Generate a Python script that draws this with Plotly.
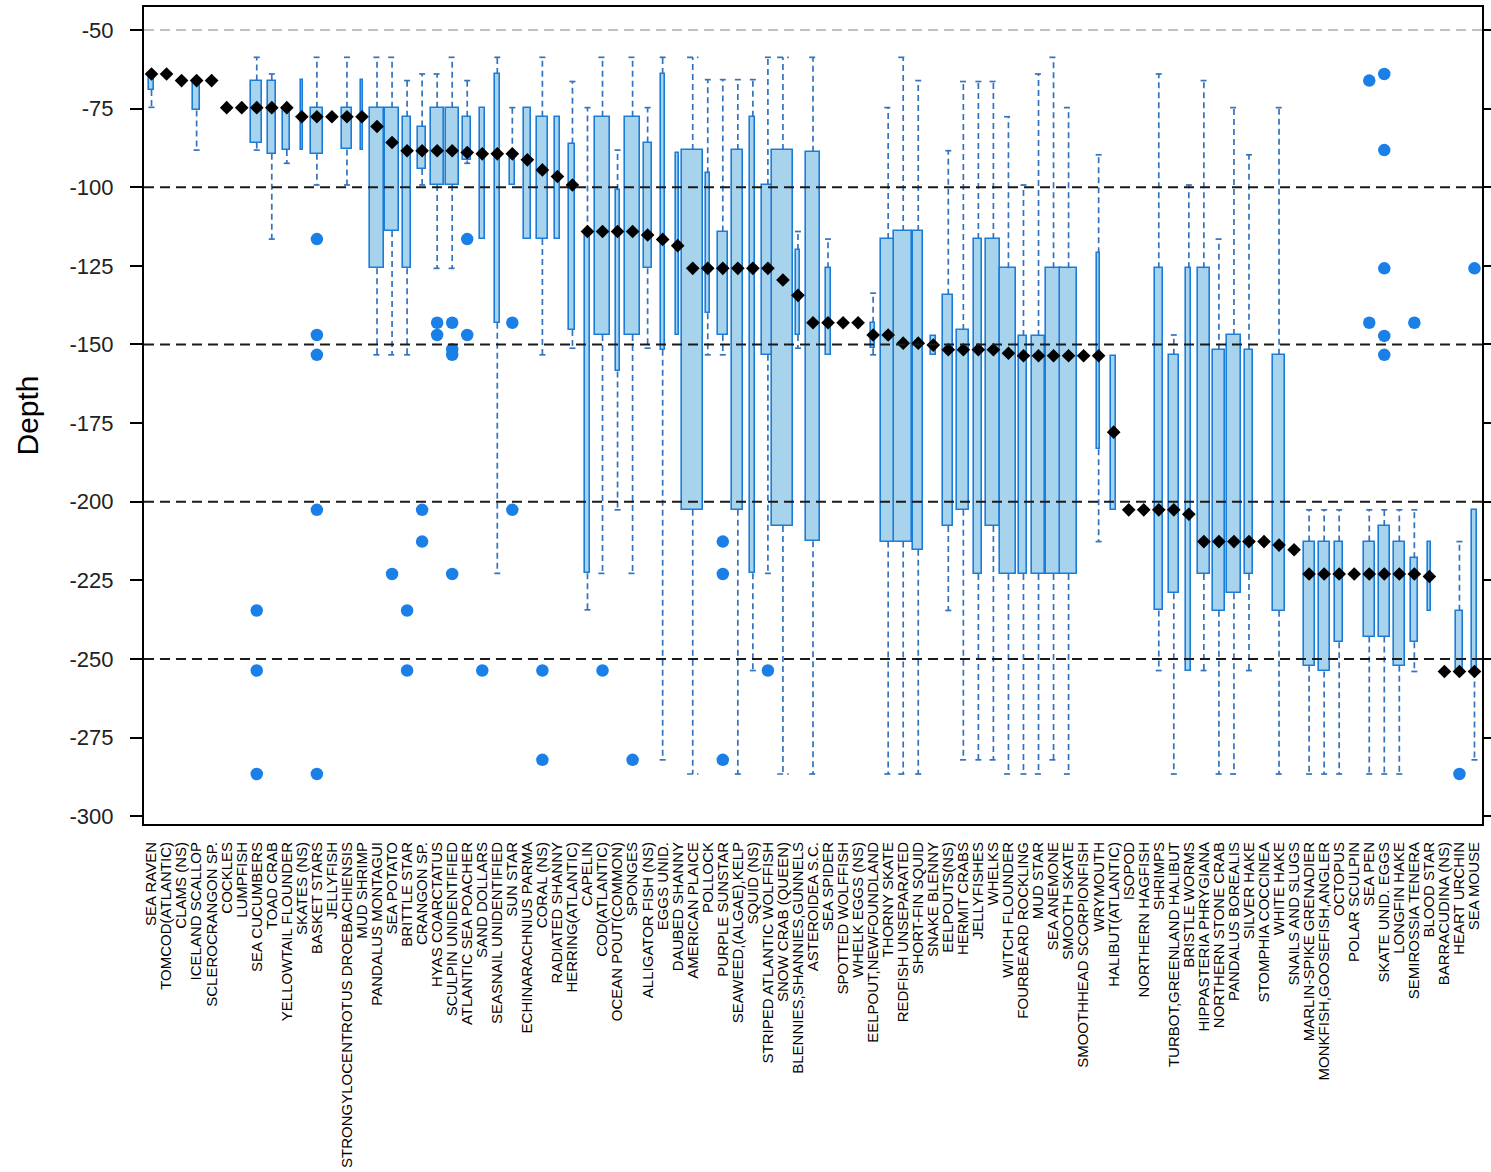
import plotly.graph_objects as go

# Species caught, ordered by median depth
categories = [
    "SEA RAVEN", "TOMCOD(ATLANTIC)", "CLAMS (NS)", "ICELAND SCALLOP", "SCLEROCRANGON SP.",
    "COCKLES", "LUMPFISH", "SEA CUCUMBERS", "TOAD CRAB", "YELLOWTAIL FLOUNDER",
    "SKATES (NS)", "BASKET STARS", "JELLYFISH", "STRONGYLOCENTROTUS DROEBACHIENSIS", "MUD SHRIMP",
    "PANDALUS MONTAGUI", "SEA POTATO", "BRITTLE STAR", "CRANGON SP.", "HYAS COARCTATUS",
    "SCULPIN UNIDENTIFIED", "ATLANTIC SEA POACHER", "SAND DOLLARS", "SEASNAIL UNIDENTIFIED", "SUN STAR",
    "ECHINARACHNIUS PARMA", "CORAL (NS)", "RADIATED SHANNY", "HERRING(ATLANTIC)", "CAPELIN",
    "COD(ATLANTIC)", "OCEAN POUT(COMMON)", "SPONGES", "ALLIGATOR FISH (NS)", "EGGS UNID.",
    "DAUBED SHANNY", "AMERICAN PLAICE", "POLLOCK", "PURPLE SUNSTAR", "SEAWEED,(ALGAE),KELP",
    "SQUID (NS)", "STRIPED ATLANTIC WOLFFISH", "SNOW CRAB (QUEEN)", "BLENNIES,SHANNIES,GUNNELS", "ASTEROIDEA S.C.",
    "SEA SPIDER", "SPOTTED WOLFFISH", "WHELK EGGS (NS)", "EELPOUT,NEWFOUNDLAND", "THORNY SKATE",
    "REDFISH UNSEPARATED", "SHORT-FIN SQUID", "SNAKE BLENNY", "EELPOUTS(NS)", "HERMIT CRABS",
    "JELLYFISHES", "WHELKS", "WITCH FLOUNDER", "FOURBEARD ROCKLING", "MUD STAR",
    "SEA ANEMONE", "SMOOTH SKATE", "SMOOTHHEAD SCORPIONFISH", "WRYMOUTH", "HALIBUT(ATLANTIC)",
    "ISOPOD", "NORTHERN HAGFISH", "SHRIMPS", "TURBOT,GREENLAND HALIBUT", "BRISTLE WORMS",
    "HIPPASTERIA PHRYGIANA", "NORTHERN STONE CRAB", "PANDALUS BOREALIS", "SILVER HAKE", "STOMPHIA COCCINEA",
    "WHITE HAKE", "SNAILS AND SLUGS", "MARLIN-SPIKE GRENADIER", "MONKFISH,GOOSEFISH,ANGLER", "OCTOPUS",
    "POLAR SCULPIN", "SEA PEN", "SKATE UNID. EGGS", "LONGFIN HAKE", "SEMIROSSIA TENERA",
    "BLOOD STAR", "BARRACUDINA (NS)", "HEART URCHIN", "SEA MOUSE",
]

# Five-number summaries of depth per species
upper_whisker = [
    -64, -64, -66.1, -66.1, -66.1, -74.7, -74.7, -58.7, -64, -74.7,
    -66, -58.7, -77.6, -58.7, -66, -58.7, -58.7, -66.1, -64, -64,
    -58.7, -66.1, -74.7, -58.7, -74.7, -74.7, -58.7, -77.6, -66.4, -74.7,
    -58.7, -88.2, -58.7, -74.7, -58.7, -89.2, -58.7, -65.8, -65.8, -65.8,
    -65.8, -58.7, -58.7, -114.1, -58.7, -116.5, -143.1, -143.1, -133.7, -74.7,
    -58.7, -66.1, -147.3, -88.4, -66.4, -66.4, -66.4, -77.6, -99.3, -64,
    -58.7, -74.7, -153.6, -89.7, -153.6, -202.6, -202.6, -64, -147, -99.3,
    -66.1, -116.5, -74.7, -89.7, -212.7, -74.7, -215.3, -202.6, -202.6, -202.6,
    -223, -202.6, -202.6, -202.6, -202.6, -212.7, -254, -212.7, -202.6,
]
upper_quartile = [
    -64, -64, -66.1, -66.1, -66.1, -74.7, -74.7, -66.1, -66.1, -74.7,
    -66, -74.7, -77.6, -74.7, -66, -74.7, -74.7, -77.6, -80.7, -74.7,
    -74.7, -77.6, -74.7, -64, -89.4, -74.7, -77.6, -77.6, -86.2, -114.1,
    -77.6, -100.9, -77.6, -85.8, -64, -89.2, -88.2, -95.6, -114.1, -88.2,
    -77.6, -99.3, -88.2, -120, -88.7, -125.8, -143.1, -143.1, -143.1, -116.5,
    -113.9, -113.9, -147.3, -134.2, -145.4, -116.5, -116.5, -125.8, -147.3, -147.3,
    -125.8, -125.8, -153.6, -121, -153.6, -202.6, -202.6, -125.8, -153.3, -125.8,
    -125.8, -151.7, -147, -151.7, -212.7, -153.3, -215.3, -212.7, -212.7, -212.7,
    -223, -212.7, -207.7, -212.7, -218, -212.7, -254, -234.7, -202.6,
]
median_depth = [
    -64, -64, -66.1, -66.1, -66.1, -74.7, -74.7, -74.7, -74.7, -74.7,
    -77.6, -77.6, -77.6, -77.6, -77.6, -80.7, -85.8, -88.4, -88.4, -88.4,
    -88.4, -89, -89.4, -89.4, -89.4, -91.3, -94.5, -96.6, -99.3, -114.1,
    -114.1, -114.1, -114.1, -115.2, -116.6, -118.6, -125.8, -125.8, -125.8, -125.8,
    -125.8, -125.8, -129.5, -134.4, -143.1, -143.1, -143.1, -143.1, -147, -147,
    -149.6, -149.6, -150.2, -151.7, -151.7, -151.7, -151.7, -152.8, -153.6, -153.6,
    -153.6, -153.6, -153.6, -153.6, -177.9, -202.6, -202.6, -202.6, -202.6, -204,
    -212.7, -212.7, -212.7, -212.7, -212.7, -213.8, -215.3, -223, -223, -223,
    -223, -223, -223, -223, -223, -223.8, -254, -254, -254,
]
lower_quartile = [
    -69.1, -64, -66.1, -75.6, -66.1, -74.7, -74.7, -85.8, -89.4, -88.2,
    -88.2, -89.4, -77.6, -88, -88.2, -125.8, -113.9, -125.8, -94.2, -99.3,
    -99.3, -91.5, -116.5, -143.1, -99.3, -116.5, -116.5, -116.5, -145.4, -222.8,
    -147, -158.6, -147, -125.8, -151.7, -147, -202.6, -140.1, -147, -202.6,
    -222.8, -153.3, -207.7, -147, -212.6, -153.3, -143.1, -143.1, -151.2, -212.7,
    -212.7, -215.3, -153.3, -207.7, -202.6, -223, -207.7, -223, -223, -223,
    -223, -223, -153.6, -183.3, -202.6, -202.6, -202.6, -234.6, -229.1, -254,
    -223, -234.7, -229.1, -223, -212.7, -234.7, -215.3, -252.2, -254, -244.7,
    -223, -242.9, -242.9, -252.2, -244.7, -234.7, -254, -254, -254,
]
lower_whisker = [
    -74.6, -64, -66.1, -88.2, -66.1, -74.7, -74.7, -88.2, -116.5, -92.4,
    -88.2, -99.3, -77.6, -99.3, -88.2, -153.3, -153.3, -153.3, -99.3, -125.8,
    -125.8, -92.4, -116.5, -222.8, -99.3, -116.5, -153.3, -116.5, -151.2, -234.4,
    -222.8, -202.6, -222.8, -151.2, -282.1, -147, -286.6, -153.3, -153.3, -286.6,
    -253.7, -222.8, -286.6, -151.2, -286.6, -153.3, -143.1, -143.1, -153.3, -286.6,
    -286.6, -286.6, -153.3, -234.6, -282.1, -282.1, -282.1, -286.6, -286.6, -286.6,
    -282.1, -286.6, -153.6, -212.7, -202.6, -202.6, -202.6, -253.7, -286.6, -254,
    -253.7, -286.6, -286.6, -253.7, -212.7, -286.6, -215.3, -286.6, -286.6, -286.6,
    -223, -286.6, -286.6, -286.6, -254, -234.7, -254, -254, -282.1,
]

# Outlying hauls per species
outlier_depths = {
    "SEA CUCUMBERS": [-234.6, -253.7, -286.6],
    "BASKET STARS": [-116.5, -147, -153.3, -202.6, -286.6],
    "SEA POTATO": [-223],
    "BRITTLE STAR": [-234.6, -253.7],
    "CRANGON SP.": [-202.6, -212.7],
    "HYAS COARCTATUS": [-143.1, -147],
    "SCULPIN UNIDENTIFIED": [-143.1, -151.5, -153.3, -223],
    "ATLANTIC SEA POACHER": [-116.5, -147],
    "SAND DOLLARS": [-253.7],
    "SUN STAR": [-143.1, -202.6],
    "CORAL (NS)": [-253.7, -282.1],
    "COD(ATLANTIC)": [-253.7],
    "SPONGES": [-282.1],
    "PURPLE SUNSTAR": [-212.7, -223, -282.1],
    "STRIPED ATLANTIC WOLFFISH": [-253.7],
    "SEA PEN": [-66.1, -143.1],
    "SKATE UNID. EGGS": [-64, -88.2, -125.8, -147.3, -153.3],
    "SEMIROSSIA TENERA": [-143.1],
    "HEART URCHIN": [-286.6],
    "SEA MOUSE": [-125.8],
}

# Box widths (fraction of a category slot), varying with sample size
box_widths = [
    0.33, 0, 0, 0.47, 0, 0, 0, 0.73, 0.53, 0.47,
    0.17, 0.8, 0, 0.67, 0.17, 0.87, 0.93, 0.53, 0.53, 0.87,
    0.87, 0.53, 0.33, 0.33, 0.33, 0.47, 0.73, 0.33, 0.4, 0.33,
    1.0, 0.27, 1.0, 0.53, 0.27, 0.17, 1.38, 0.27, 0.67, 0.73,
    0.33, 0.73, 1.4, 0.27, 0.93, 0.33, 0, 0, 0.27, 0.93,
    1.18, 0.67, 0.33, 0.67, 0.8, 0.53, 0.93, 1.06, 0.53, 0.87,
    1.0, 1.13, 0, 0.17, 0.33, 0, 0, 0.53, 0.67, 0.33,
    0.8, 0.8, 0.93, 0.53, 0, 0.8, 0, 0.73, 0.73, 0.53,
    0, 0.73, 0.73, 0.73, 0.47, 0.17, 0, 0.47, 0.27,
]

depth_ticks = [-300, -275, -250, -225, -200, -175, -150, -125, -100, -75, -50]
reference_depths = [-100, -150, -200, -250]

BOX_FILL = "#a8d3ec"
BOX_EDGE = "#1b7dda"
WHISKER = "#3373bd"
POINT = "#1a7fe6"

pos = list(range(len(categories)))

fig = go.Figure()

# Boxes (interquartile range) as floating bars
bx, by, bbase, bw = [], [], [], []
for i in pos:
    if box_widths[i] > 0 and upper_quartile[i] > lower_quartile[i]:
        bx.append(i)
        by.append(upper_quartile[i] - lower_quartile[i])
        bbase.append(lower_quartile[i])
        bw.append(box_widths[i])
fig.add_trace(go.Bar(
    x=bx, y=by, base=bbase, width=bw,
    marker=dict(color=BOX_FILL, line=dict(color=BOX_EDGE, width=1.6)),
    hoverinfo="skip", showlegend=False,
))

# Dashed whiskers with end caps
wx, wy = [], []
for i in pos:
    cap = max(box_widths[i] * 0.55, 0.4) / 2
    if upper_whisker[i] > upper_quartile[i]:
        wx += [i, i, None, i - cap, i + cap, None]
        wy += [upper_quartile[i], upper_whisker[i], None, upper_whisker[i], upper_whisker[i], None]
    if lower_whisker[i] < lower_quartile[i]:
        wx += [i, i, None, i - cap, i + cap, None]
        wy += [lower_quartile[i], lower_whisker[i], None, lower_whisker[i], lower_whisker[i], None]
fig.add_trace(go.Scatter(
    x=wx, y=wy, mode="lines",
    line=dict(color=WHISKER, width=1.7, dash="6px,4px"),
    hoverinfo="skip", showlegend=False,
))

# Outliers
ox, oy = [], []
for name, vals in outlier_depths.items():
    k = categories.index(name)
    ox += [k] * len(vals)
    oy += vals
fig.add_trace(go.Scatter(
    x=ox, y=oy, mode="markers",
    marker=dict(symbol="circle", size=12.5, color=POINT),
    hoverinfo="skip", showlegend=False,
))

# Medians
fig.add_trace(go.Scatter(
    x=pos, y=median_depth, mode="markers",
    marker=dict(symbol="diamond", size=10.5, color="black"),
    hoverinfo="skip", showlegend=False,
))

for d in reference_depths:
    fig.add_hline(y=d, line=dict(color="#1a1a1a", width=2, dash="10px,6px"), layer="above")
fig.add_hline(y=-50, line=dict(color="#c0c0c0", width=2, dash="10px,6px"), layer="above")

fig.update_layout(
    width=1491, height=1172,
    margin=dict(l=144, r=9, t=7, b=348),
    plot_bgcolor="white", paper_bgcolor="white",
    font=dict(family="Liberation Sans, Arial, sans-serif", color="black"),
    bargap=0,
)
fig.update_xaxes(
    range=[-0.5, len(categories) - 0.5], automargin=False,
    tickmode="array", tickvals=pos, ticktext=categories,
    tickangle=-90, tickfont=dict(size=15, color="black"), ticklabelstandoff=10,
    ticks="", showgrid=False, zeroline=False,
    showline=True, linecolor="black", linewidth=2, mirror=True,
)
fig.update_yaxes(
    range=[-302.5, -42.7], automargin=False,
    tickmode="array", tickvals=depth_ticks, ticktext=[str(t) for t in depth_ticks],
    tickfont=dict(size=22, color="#222222"), ticklabelstandoff=12,
    ticks="outside", ticklen=12, tickwidth=1.5, tickcolor="black",
    showgrid=False, zeroline=False,
    showline=True, linecolor="black", linewidth=2, mirror="ticks",
    title=dict(text="Depth", font=dict(size=30, color="black"), standoff=22),
)

fig.write_html("out.html")
